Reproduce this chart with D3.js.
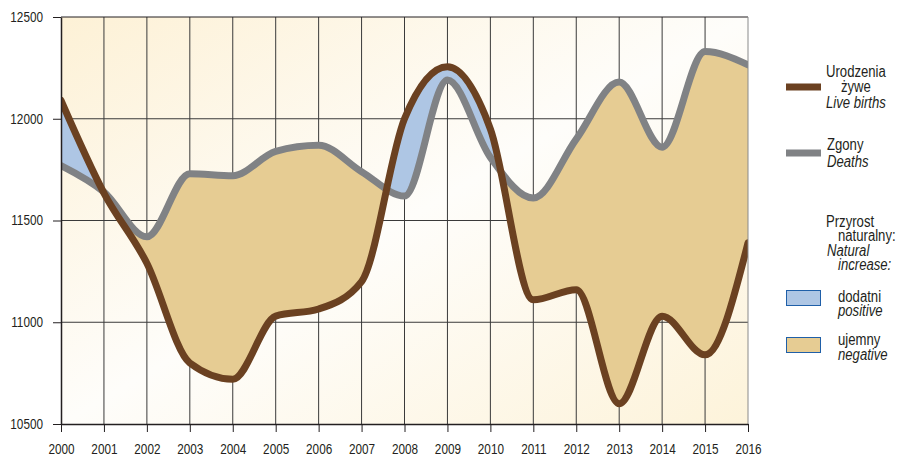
<!DOCTYPE html>
<html>
  <head>
    <meta charset="utf-8" />
    <title>Urodzenia i zgony</title>
    <style type="text/css">
      html, body { margin: 0; padding: 0; background: #fff; }
      svg { display: block; }
      text { font-family: "Liberation Sans", Arial, sans-serif; fill: #231f20; }
      .axis path, .axis line { stroke: #231f20; }
      .axis text { font-size: 14px; fill: #231f20; }
      .legend text { font-size: 16px; }
    </style>
  </head>
  <body>
    <svg id="chart" width="899" height="458"></svg>

    <script type="text/javascript" src="https://cdn.jsdelivr.net/npm/d3@7/dist/d3.min.js"></script>
    <script type="text/javascript">

    // values
    var years  = [2000, 2001, 2002, 2003, 2004, 2005, 2006, 2007, 2008, 2009, 2010, 2011, 2012, 2013, 2014, 2015, 2016];
    var births = [12090, 11635, 11290, 10800, 10720, 11030, 11065, 11200, 12000, 12255, 11950, 11110, 11160, 10600, 11030, 10840, 11390];
    var deaths = [11770, 11640, 11420, 11730, 11720, 11840, 11870, 11740, 11620, 12190, 11810, 11610, 11900, 12180, 11860, 12330, 12265];
    var yTicks = [10500, 11000, 11500, 12000, 12500];

    var svg = d3.select('#chart');

    var x = d3.scaleLinear().domain([2000, 2016]).range([61, 748]),
        y = d3.scaleLinear().domain([10500, 12500]).range([424, 17]);

    var rows = years.map(function(yr, i) { return { year: yr, b: births[i], d: deaths[i] }; });

    // the source uses a narrow face, squeeze the regular one instead
    function narrow(sel, k) {
      sel.each(function() {
        var len = this.getComputedTextLength();
        d3.select(this).attr('textLength', len * k).attr('lengthAdjust', 'spacingAndGlyphs');
      });
    }

    var defs = svg.append('defs');

    var grad = defs.append('linearGradient')
      .attr('id', 'bg')
      .attr('x1', 0).attr('y1', 0).attr('x2', 1).attr('y2', 1);
    grad.append('stop').attr('offset', 0).attr('stop-color', '#fdf1d6');
    grad.append('stop').attr('offset', 0.5).attr('stop-color', '#fefdfa');
    grad.append('stop').attr('offset', 1).attr('stop-color', '#fdf3da');

    defs.append('clipPath').attr('id', 'plot')
      .append('rect')
        .attr('x', x(2000)).attr('y', y(12500))
        .attr('width', x(2016) - x(2000)).attr('height', y(10500) - y(12500));

    var curve = d3.curveMonotoneX;

    // region above / below the deaths curve, used to split the fill
    defs.append('clipPath').attr('id', 'above')
      .append('path')
        .attr('d', d3.area().curve(curve)
          .x(function(d) { return x(d.year); })
          .y0(function(d) { return y(d.d); })
          .y1(0)(rows));

    defs.append('clipPath').attr('id', 'below')
      .append('path')
        .attr('d', d3.area().curve(curve)
          .x(function(d) { return x(d.year); })
          .y0(function(d) { return y(d.d); })
          .y1(458)(rows));

    svg.append('rect')
      .attr('x', x(2000)).attr('y', y(12500))
      .attr('width', x(2016) - x(2000)).attr('height', y(10500) - y(12500))
      .attr('fill', 'url(#bg)');

    // grid
    svg.append('g').selectAll('line')
      .data(years.slice(1, -1))
      .enter().append('line')
        .attr('x1', function(d) { return x(d); }).attr('x2', function(d) { return x(d); })
        .attr('y1', y(12500)).attr('y2', y(10500))
        .attr('stroke', '#3a3a3a').attr('stroke-width', 1);

    svg.append('g').selectAll('line')
      .data(yTicks.slice(1, -1))
      .enter().append('line')
        .attr('x1', x(2000)).attr('x2', x(2016))
        .attr('y1', function(d) { return y(d); }).attr('y2', function(d) { return y(d); })
        .attr('stroke', '#3a3a3a').attr('stroke-width', 1);

    var band = d3.area().curve(curve)
      .x(function(d) { return x(d.year); })
      .y0(function(d) { return y(d.d); })
      .y1(function(d) { return y(d.b); });

    var fills = svg.append('g').attr('clip-path', 'url(#plot)');
    fills.append('g').attr('clip-path', 'url(#above)')
      .append('path').attr('d', band(rows)).attr('fill', '#aec6e4');
    fills.append('g').attr('clip-path', 'url(#below)')
      .append('path').attr('d', band(rows)).attr('fill', '#e6cc93');

    var line = function(key) {
      return d3.line().curve(curve)
        .x(function(d) { return x(d.year); })
        .y(function(d) { return y(d[key]); });
    };

    var lines = svg.append('g').attr('clip-path', 'url(#plot)');
    lines.append('path')
      .attr('d', line('d')(rows))
      .attr('fill', 'none').attr('stroke', '#808285').attr('stroke-width', 7)
      .attr('stroke-linejoin', 'round').attr('stroke-linecap', 'round');
    lines.append('path')
      .attr('d', line('b')(rows))
      .attr('fill', 'none').attr('stroke', '#6b4121').attr('stroke-width', 7)
      .attr('stroke-linejoin', 'round').attr('stroke-linecap', 'round');

    // frame
    svg.append('line')
      .attr('x1', x(2000)).attr('x2', x(2016)).attr('y1', y(12500)).attr('y2', y(12500))
      .attr('stroke', '#231f20');
    svg.append('line')
      .attr('x1', x(2016)).attr('x2', x(2016)).attr('y1', y(12500)).attr('y2', y(10500))
      .attr('stroke', '#8a8a8a');

    svg.append('g')
      .attr('class', 'axis')
      .attr('transform', 'translate(' + x(2000) + ',0)')
      .call(d3.axisLeft(y).tickValues(yTicks).tickFormat(d3.format('d'))
        .tickSize(8).tickSizeOuter(0).tickPadding(10));

    svg.append('g')
      .attr('class', 'axis')
      .attr('transform', 'translate(0,' + y(10500) + ')')
      .call(d3.axisBottom(x).tickValues(years).tickFormat(d3.format('d'))
        .tickSize(8).tickSizeOuter(0).tickPadding(12));

    svg.selectAll('.axis .domain').attr('stroke-width', 1.5);
    svg.selectAll('.axis text').call(narrow, 0.84);

    // legend
    var lg = svg.append('g').attr('class', 'legend');

    lg.append('line').attr('x1', 786).attr('x2', 821).attr('y1', 87).attr('y2', 87)
      .attr('stroke', '#6b4121').attr('stroke-width', 7);
    lg.append('line').attr('x1', 786).attr('x2', 821).attr('y1', 153).attr('y2', 153)
      .attr('stroke', '#808285').attr('stroke-width', 7);
    lg.append('rect').attr('x', 786.5).attr('y', 290.5).attr('width', 34).attr('height', 15)
      .attr('fill', '#aec6e4').attr('stroke', '#1f5fa8').attr('stroke-width', 1);
    lg.append('rect').attr('x', 786.5).attr('y', 337.5).attr('width', 34).attr('height', 15)
      .attr('fill', '#e6cc93').attr('stroke', '#1f5fa8').attr('stroke-width', 1);

    var labels = [
      { t: 'Urodzenia', x: 826, y: 77, i: false },
      { t: 'żywe', x: 841, y: 92, i: false },
      { t: 'Live births', x: 826, y: 108, i: true },
      { t: 'Zgony', x: 827, y: 150, i: false },
      { t: 'Deaths', x: 827, y: 167, i: true },
      { t: 'Przyrost', x: 826, y: 227, i: false },
      { t: 'naturalny:', x: 838, y: 241, i: false },
      { t: 'Natural', x: 827, y: 256, i: true },
      { t: 'increase:', x: 838, y: 270, i: true },
      { t: 'dodatni', x: 838, y: 302, i: false },
      { t: 'positive', x: 838, y: 316, i: true },
      { t: 'ujemny', x: 838, y: 345, i: false },
      { t: 'negative', x: 838, y: 360, i: true }
    ];

    lg.selectAll('text')
      .data(labels)
      .enter().append('text')
        .attr('x', function(d) { return d.x; })
        .attr('y', function(d) { return d.y; })
        .attr('font-style', function(d) { return d.i ? 'italic' : 'normal'; })
        .text(function(d) { return d.t; })
        .call(narrow, 0.82);

    </script>
  </body>
</html>
